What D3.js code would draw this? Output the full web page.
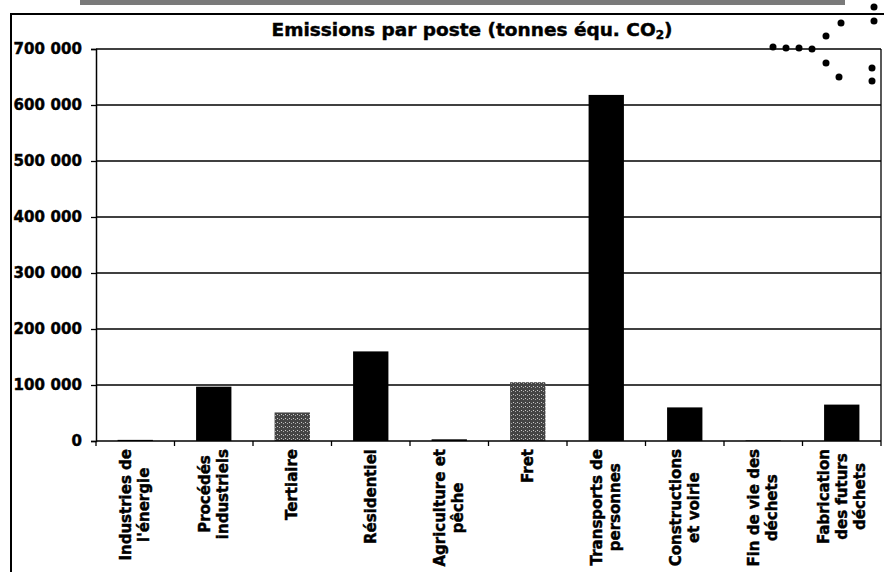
<!DOCTYPE html>
<html>
<head>
<meta charset="utf-8">
<script src="https://cdn.jsdelivr.net/npm/d3@7"></script>
<style>
  body { margin: 0; background: #fff; }
  text { font-family: "DejaVu Sans", Verdana, sans-serif; font-weight: bold; fill: #000;
         stroke: #000; stroke-width: 0.45px; }
</style>
</head>
<body>
<div id="chart"></div>
<script>
// data
var categories = [
  ["Industries de", "l'énergie"],
  ["Procédés", "industriels"],
  ["Tertiaire"],
  ["Résidentiel"],
  ["Agriculture et", "pêche"],
  ["Fret"],
  ["Transports de", "personnes"],
  ["Constructions", "et voirie"],
  ["Fin de vie des", "déchets"],
  ["Fabrication", "des futurs", "déchets"]
];
var values = [2000, 97000, 51000, 160000, 3000, 105000, 618000, 60000, 1000, 65000];
var shaded = [false, false, true, false, false, true, false, false, false, false];
var yTicks = [0, 100000, 200000, 300000, 400000, 500000, 600000, 700000];

// decorative dots of the scanned logo (top right corner)
var logoDots = [[773, 47], [786, 48], [799, 48], [812, 49], [826, 63], [839, 77],
  [826, 36], [841, 23], [874, 7], [874, 21], [872, 68], [872, 81]];

var svgWidth = 884;
var svgHeight = 572;
var margin = { top: 49, right: 3, bottom: 131, left: 96 };
var width = svgWidth - margin.left - margin.right;
var height = svgHeight - margin.top - margin.bottom;

var svg = d3.select("#chart").append("svg")
  .attr("width", svgWidth)
  .attr("height", svgHeight);

// texture for the grey bars
var pat = svg.append("defs").append("pattern")
  .attr("id", "speckle")
  .attr("width", 4).attr("height", 4)
  .attr("patternUnits", "userSpaceOnUse");
pat.append("rect").attr("width", 4).attr("height", 4).attr("fill", "#444");
pat.append("rect").attr("x", 1).attr("y", 1).attr("width", 1).attr("height", 1).attr("fill", "#ccc");
pat.append("rect").attr("x", 3).attr("y", 2).attr("width", 1).attr("height", 1).attr("fill", "#aaa");

// scan strip and outer frame
svg.append("rect")
  .attr("x", 80).attr("y", 0).attr("width", 765).attr("height", 5)
  .attr("fill", "#7a7a7a");
svg.append("path")
  .attr("d", "M11,572V14H884")
  .attr("fill", "none")
  .attr("stroke", "#000")
  .attr("stroke-width", 2);

svg.append("g").selectAll("circle")
  .data(logoDots)
  .enter()
  .append("circle")
  .attr("cx", d => d[0])
  .attr("cy", d => d[1])
  .attr("r", 3.5)
  .attr("fill", "#000");

var title = svg.append("text")
  .attr("x", 472)
  .attr("y", 36)
  .attr("text-anchor", "middle")
  .attr("font-size", "18.5px");
title.append("tspan").text("Emissions par poste (tonnes équ. CO");
title.append("tspan").attr("font-size", "12px").attr("dy", 3).text("2");
title.append("tspan").attr("dy", -3).text(")");

var chartGroup = svg.append("g")
  .attr("transform", `translate(${margin.left}, ${margin.top})`);

var x = d3.scaleBand()
  .domain(d3.range(categories.length))
  .range([0, width])
  .paddingInner(0.55)
  .paddingOuter(0.275);

var y = d3.scaleLinear()
  .domain([0, 700000])
  .range([height, 0]);

// gridlines
chartGroup.append("g")
  .selectAll("line")
  .data(yTicks.slice(1))
  .enter()
  .append("line")
  .attr("x1", 0)
  .attr("x2", width)
  .attr("y1", d => y(d))
  .attr("y2", d => y(d))
  .attr("stroke", "#000")
  .attr("stroke-width", 1.3);

// right border of plot area
chartGroup.append("line")
  .attr("x1", width).attr("x2", width)
  .attr("y1", 0).attr("y2", height)
  .attr("stroke", "#000")
  .attr("stroke-width", 1.3);

// bars
chartGroup.append("g")
  .selectAll("rect")
  .data(values)
  .enter()
  .append("rect")
  .attr("x", (d, i) => x(i))
  .attr("y", d => y(d))
  .attr("width", x.bandwidth())
  .attr("height", d => height - y(d))
  .attr("fill", (d, i) => shaded[i] ? "url(#speckle)" : "#000");

// y axis
var fmt = v => d3.format(",")(v).replace(/,/g, " ");
var yAxis = chartGroup.append("g")
  .call(d3.axisLeft(y).tickValues(yTicks).tickFormat(fmt).tickSize(5).tickPadding(9));
yAxis.select(".domain").attr("stroke-width", 1.5);
yAxis.selectAll(".tick line").attr("stroke-width", 1.3);
yAxis.selectAll("text")
  .attr("font-size", "15px")
  .attr("letter-spacing", "0.1px")
  .attr("font-family", "DejaVu Sans")
  .attr("font-weight", "bold");

// x axis: ticks between categories
var step = x.step();
chartGroup.append("line")
  .attr("x1", 0).attr("x2", width)
  .attr("y1", height).attr("y2", height)
  .attr("stroke", "#000")
  .attr("stroke-width", 1.5);
chartGroup.append("g")
  .selectAll("line")
  .data(d3.range(categories.length + 1))
  .enter()
  .append("line")
  .attr("x1", d => d * step)
  .attr("x2", d => d * step)
  .attr("y1", height)
  .attr("y2", height + 5)
  .attr("stroke", "#000")
  .attr("stroke-width", 1.3);

// rotated category labels
var lineGap = 18;
var labels = chartGroup.append("g")
  .selectAll("text")
  .data(categories)
  .enter()
  .append("text")
  .attr("font-size", "15px")
  .attr("transform", (d, i) => {
    var cx = x(i) + x.bandwidth() / 2;
    return `translate(${cx}, ${height + 8}) rotate(-90)`;
  });

labels.selectAll("tspan")
  .data(d => d.map((t, j) => ({ t: t, j: j, n: d.length })))
  .enter()
  .append("tspan")
  .attr("text-anchor", "end")
  .attr("x", 0)
  .attr("y", d => (d.j - (d.n - 1) / 2) * lineGap + 5)
  .text(d => d.t);

// center multi-line blocks along the text direction
labels.each(function() {
  var spans = d3.select(this).selectAll("tspan").nodes();
  var widths = spans.map(s => s.getComputedTextLength());
  var maxW = d3.max(widths);
  spans.forEach((s, k) => {
    d3.select(s).attr("x", -(maxW - widths[k]) / 2);
  });
});
</script>
</body>
</html>
